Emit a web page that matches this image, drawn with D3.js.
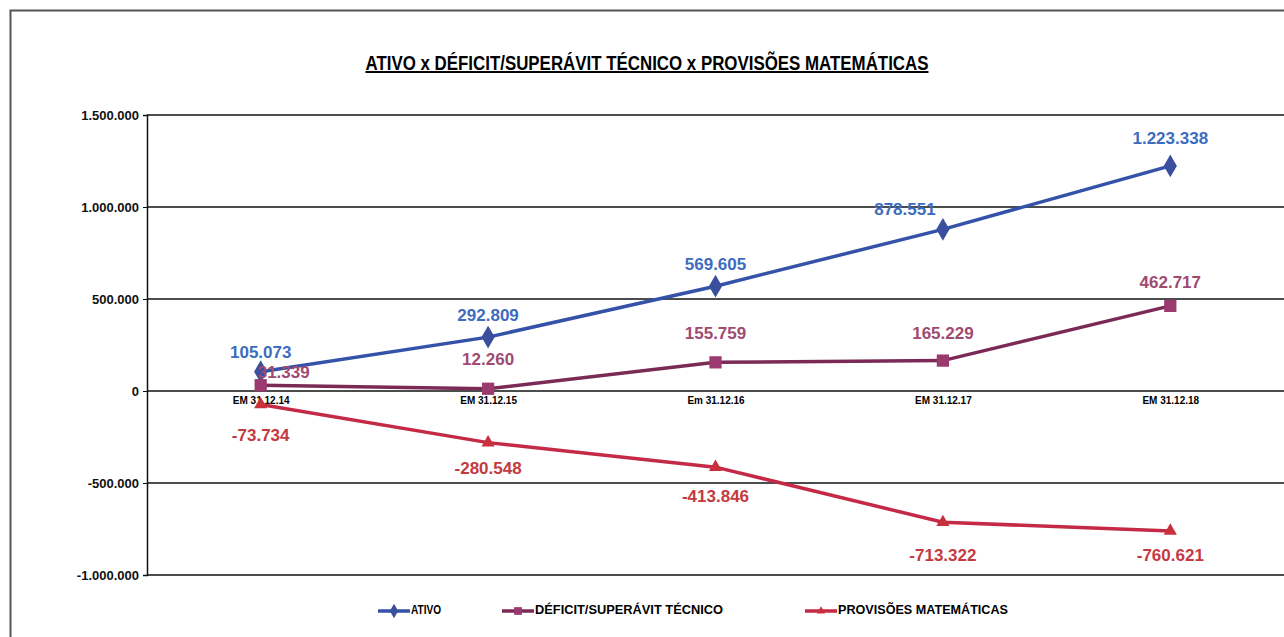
<!DOCTYPE html>
<html><head><meta charset="utf-8">
<script src="https://cdn.jsdelivr.net/npm/d3@7"></script>
<style>
body{margin:0;background:#fff;}
svg{display:block;}
</style></head>
<body>
<svg id="c" width="1284" height="637"></svg>
<script>
const categories = ["EM 31.12.14","EM 31.12.15","Em 31.12.16","EM 31.12.17","EM 31.12.18"];
const ativo = [105073, 292809, 569605, 878551, 1223338];
const deficit = [31339, 12260, 155759, 165229, 462717];
const provisoes = [-73734, -280548, -413846, -713322, -760621];
const yTicks = [1500000, 1000000, 500000, 0, -500000, -1000000];
const seriesNames = ["ATIVO","DÉFICIT/SUPERÁVIT TÉCNICO","PROVISÕES MATEMÁTICAS"];

const svg = d3.select("#c");
const W = 1284, H = 637;
const m = {l:147, r:0, t:115, b:62};
const FONT = "'Liberation Sans',Arial,sans-serif";

// outer frame
svg.append("path").attr("d","M10.5,637 L10.5,10.5 L1284,10.5").attr("fill","none").attr("stroke","#555").attr("stroke-width",2);

const x = d3.scalePoint().domain(categories).range([m.l, W]).padding(0.5);
const y = d3.scaleLinear().domain([-1000000,1500000]).range([575,115]);

const fmt = v => d3.format(",")(v).replace(/,/g,".").replace("\u2212","-");

// gridlines
svg.append("g").selectAll("line").data(yTicks).join("line")
  .attr("x1",m.l).attr("x2",W).attr("y1",d=>y(d)).attr("y2",d=>y(d))
  .attr("stroke","#111").attr("stroke-width",1.3);

// y axis
const ya = svg.append("g").attr("transform",`translate(${m.l},0)`)
  .call(d3.axisLeft(y).tickValues(yTicks).tickSize(4).tickFormat(fmt));
ya.select(".domain").attr("stroke","#111").attr("stroke-width",1.5);
ya.selectAll("line").attr("stroke","#111");
ya.selectAll("text").attr("font-family",FONT).attr("font-size",13).attr("font-weight","bold").attr("fill","#111").attr("dx",-1);

// x axis labels at zero line
const xa = svg.append("g").attr("transform",`translate(0,${y(0)})`)
  .call(d3.axisBottom(x).tickSize(0).tickPadding(6));
xa.select(".domain").remove();
xa.selectAll("text").attr("font-family",FONT).attr("font-size",10).attr("font-weight","bold").attr("fill","#000");

const series = [
  {name:seriesNames[0], data:ativo, line:"#3453a8", marker:"#3a4f9e", label:"#3d6cc0", sym:d3.symbolDiamond, size:150,
   lab:[[0,-18],[0,-21],[0,-21],[-38,-19],[0,-26]]},
  {name:seriesNames[1], data:deficit, line:"#7a2a55", marker:"#9b3a6e", label:"#a04a72", sym:d3.symbolSquare, size:150,
   lab:[[23,-12],[0,-28],[0,-28],[0,-26],[0,-22]]},
  {name:seriesNames[2], data:provisoes, line:"#c42a45", marker:"#c8303c", label:"#c43a3e", sym:d3.symbolTriangle, size:75,
   lab:[[0,32],[0,27],[0,30],[0,34],[0,26]]}
];

const line = d3.line().x((d,i)=>x(categories[i])).y(d=>y(d));
series.forEach(s=>{
  svg.append("path").datum(s.data).attr("d",line).attr("fill","none")
    .attr("stroke",s.line).attr("stroke-width",3.5);
});
series.forEach(s=>{
  svg.append("g").selectAll("path").data(s.data).join("path")
    .attr("d",d3.symbol().type(s.sym).size(s.size))
    .attr("transform",(d,i)=>`translate(${x(categories[i])},${y(d)})`)
    .attr("fill",s.marker);
});
series.forEach(s=>{
  svg.append("g").selectAll("text").data(s.data).join("text")
    .attr("x",(d,i)=>x(categories[i])+s.lab[i][0])
    .attr("y",(d,i)=>y(d)+s.lab[i][1])
    .attr("text-anchor","middle").attr("dominant-baseline","middle")
    .attr("font-family",FONT).attr("font-size",17).attr("font-weight","bold")
    .attr("fill",s.label).text(d=>fmt(d));
});

// title
svg.append("text").attr("x",647).attr("y",70).attr("text-anchor","middle")
  .attr("font-family",FONT).attr("font-size",20).attr("font-weight","bold")
  .attr("text-decoration","underline").attr("fill","#000")
  .attr("textLength",563).attr("lengthAdjust","spacingAndGlyphs")
  .text("ATIVO x DÉFICIT/SUPERÁVIT TÉCNICO x PROVISÕES MATEMÁTICAS");

// legend
const legX = [378, 502, 805];
const legW = [30, 188, 170];
series.forEach((s,i)=>{
  const g = svg.append("g").attr("transform",`translate(${legX[i]},611)`);
  g.append("line").attr("x1",0).attr("x2",32).attr("stroke",s.line).attr("stroke-width",3.5);
  g.append("path").attr("d",d3.symbol().type(s.sym).size(s.size*0.4)).attr("transform","translate(16,0)").attr("fill",s.marker);
  g.append("text").attr("x",33).attr("y",0).attr("dominant-baseline","middle")
    .attr("font-family",FONT).attr("font-size",12).attr("font-weight","bold").attr("fill","#000")
    .attr("textLength",legW[i]).attr("lengthAdjust","spacingAndGlyphs").text(s.name);
});
</script>
</body></html>
